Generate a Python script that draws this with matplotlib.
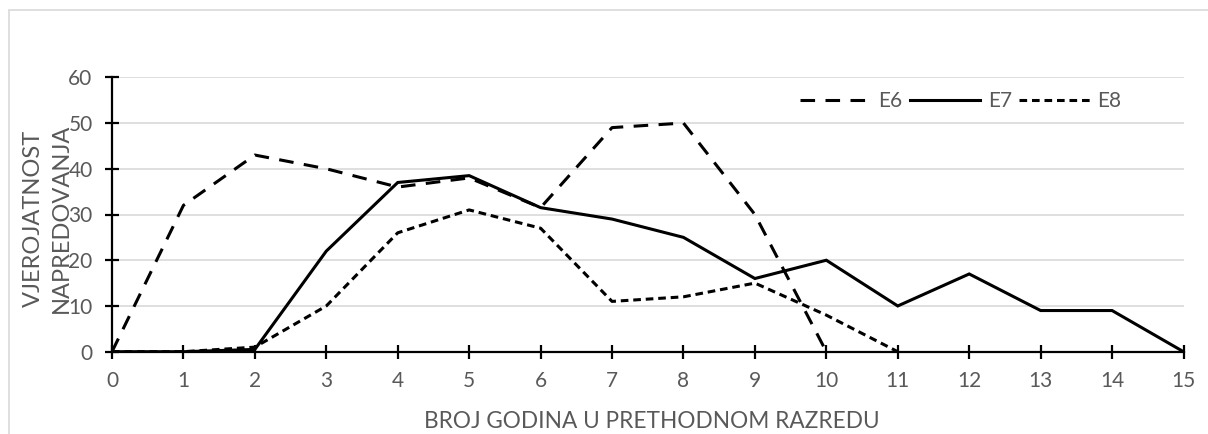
import matplotlib
matplotlib.use("Agg")
import matplotlib.pyplot as plt
from matplotlib.patches import Rectangle

# ---- data ----
x_e6 = [0, 1, 2, 3, 4, 5, 6, 7, 8, 9, 10]
e6 = [0, 32, 43, 40, 36, 38, 31.5, 49, 50, 30, 0]
x_e7 = list(range(16))
e7 = [0, 0, 0.5, 22, 37, 38.5, 31.5, 29, 25, 16, 20, 10, 17, 9, 9, 0]
x_e8 = list(range(12))
e8 = [0, 0, 1, 10, 26, 31, 27, 11, 12, 15, 8, 0]
series_names = ["E6", "E7", "E8"]
x_ticks = list(range(16))
y_ticks = [0, 10, 20, 30, 40, 50, 60]
x_title = "BROJ GODINA U PRETHODNOM RAZREDU"
y_title = "VJEROJATNOST\nNAPREDOVANJA"

plt.rcParams['font.family'] = ['Lato', 'DejaVu Sans']
plt.rcParams['lines.scale_dashes'] = False

W, H = 1208, 434
fig = plt.figure(figsize=(W / 100, H / 100), dpi=100)

# chart-area border
fig.patches.append(Rectangle((9 / W, -0.1), 1.2, 1 - 10 / H + 0.1,
                             transform=fig.transFigure, fill=False,
                             edgecolor='#d9d9d9', linewidth=1.2))

ax = fig.add_axes([112 / W, 1 - 351.7 / H, (1183.5 - 112) / W, (351.7 - 77.3) / H])

lw = 2.2
ax.plot(x_e6, e6, color='black', lw=lw, linestyle=(0, (10.5, 7.5)),
        label=series_names[0], solid_joinstyle='miter', dash_capstyle='butt')
ax.plot(x_e7, e7, color='black', lw=lw, linestyle='-', label=series_names[1],
        solid_joinstyle='miter')
ax.plot(x_e8, e8, color='black', lw=lw, linestyle=(0, (5.5, 3.5)),
        label=series_names[2], dash_capstyle='butt')

ax.set_xlim(0, 15)
ax.set_ylim(0, 60)
ax.set_xticks(x_ticks)
ax.set_yticks(y_ticks)
ax.yaxis.grid(True, color='#d9d9d9', linewidth=1.2)
ax.set_axisbelow(True)
for s in ['top', 'right']:
    ax.spines[s].set_visible(False)
for s in ['left', 'bottom']:
    ax.spines[s].set_linewidth(1.6)
    ax.spines[s].set_color('black')
    ax.spines[s].set_zorder(1.5)
ax.tick_params(axis='both', direction='inout', length=10, width=1.6,
               color='black', labelcolor='#595959', labelsize=15)
ax.tick_params(axis='y', pad=9)
ax.tick_params(axis='x', pad=9)

fig.text(652 / W, 1 - 422 / H, x_title, ha='center', va='center',
         fontsize=16.3, color='#595959')
fig.text(47 / W, 1 - 218 / H, y_title, ha='center', va='center',
         rotation=90, fontsize=17, color='#595959', linespacing=1.4,
         multialignment='center')

leg = ax.legend(loc='center left', bbox_to_anchor=(800 / W, 1 - 101 / H),
                bbox_transform=fig.transFigure, ncol=3, frameon=False,
                fontsize=15, handlelength=3.4, handletextpad=0.35,
                columnspacing=0.35, borderpad=0, borderaxespad=0)
for t in leg.get_texts():
    t.set_color('#595959')

fig.savefig('out.png', dpi=100)
